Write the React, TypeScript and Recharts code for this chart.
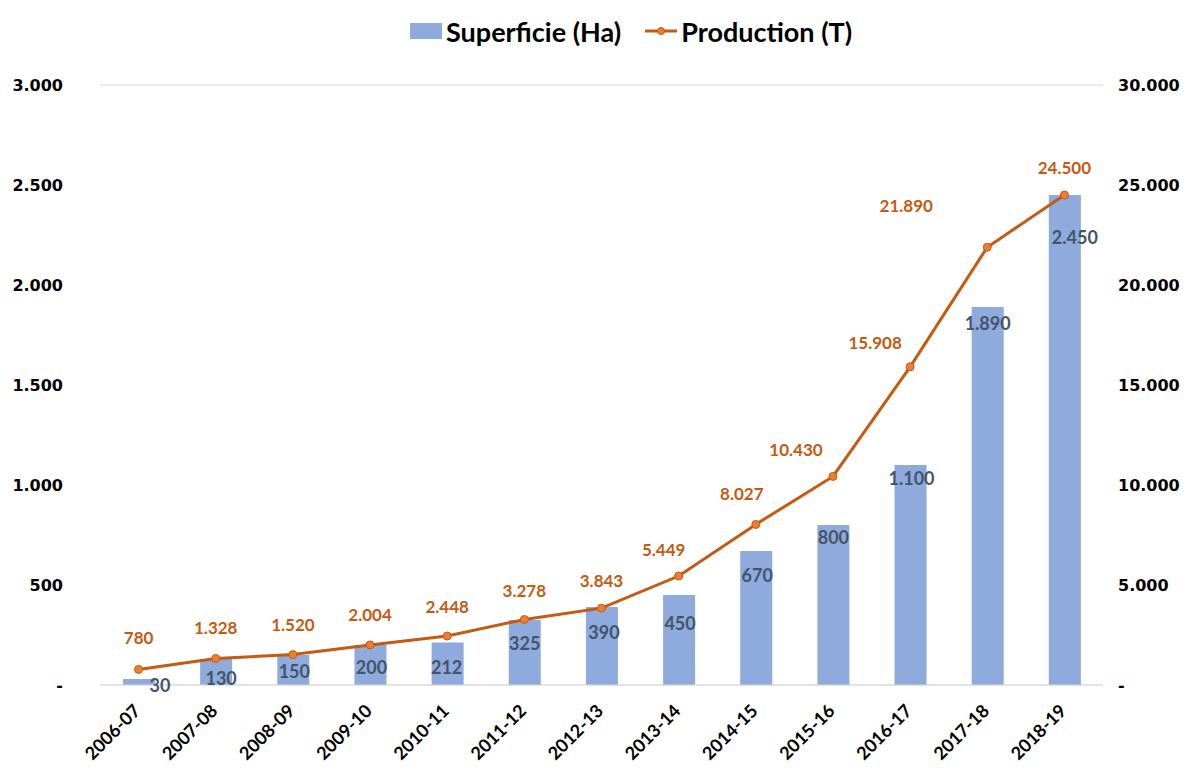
import React from "react";
import {
  ComposedChart, Bar, Line, XAxis, YAxis, CartesianGrid, LabelList,
} from "recharts";

const categories = [
  "2006-07", "2007-08", "2008-09", "2009-10", "2010-11", "2011-12", "2012-13",
  "2013-14", "2014-15", "2015-16", "2016-17", "2017-18", "2018-19",
];
const superficie = [30, 130, 150, 200, 212, 325, 390, 450, 670, 800, 1100, 1890, 2450];
const production = [780, 1328, 1520, 2004, 2448, 3278, 3843, 5449, 8027, 10430, 15908, 21890, 24500];
const leftTicks = [0, 500, 1000, 1500, 2000, 2500, 3000];
const rightTicks = [0, 5000, 10000, 15000, 20000, 25000, 30000];

// label nudges (relative to the mark), as placed by hand in the original
const barLabelShift = [[21, 6], [5, 19], [1, 16], [1, 22], [-1, 24], [0, 23], [2, 25], [1, 28], [1, 24], [0, 12], [1, 13], [0, 16], [10, 42]];
const lineLabelShift = [[0, -32], [0, -31], [0, -30], [0, -30], [0, -30], [0, -29], [0, -28], [-15, -27], [-14, -31], [-37, -27], [-35, -24], [-81, -42], [0, -28]];

const BAR = "#8FAADC";
const LINE = "#C55A11";
const AXIS_FONT = "'DejaVu Sans', sans-serif";
const LABEL_FONT = "Lato, sans-serif";

const data = categories.map((c, i) => ({ cat: c, sup: superficie[i], prod: production[i] }));

const fmt = (n: number) => (n === 0 ? "-" : String(n).replace(/\B(?=(\d{3})+(?!\d))/g, "."));

const XTick = (props: any) => {
  const { x, y, payload } = props;
  const ax = x + 3;
  const ay = y + 27;
  return (
    <text x={ax} y={ay} transform={`rotate(-45, ${ax}, ${ay})`} textAnchor="end"
      fontFamily={LABEL_FONT} fontWeight="bold" fontSize={18} fill="#000">
      {payload.value}
    </text>
  );
};

const BarLabel = (props: any) => {
  const { x, y, width, value, index } = props;
  const [dx, dy] = barLabelShift[index] || [0, 20];
  return (
    <text x={x + width / 2 + dx} y={y + dy} dominantBaseline="central" textAnchor="middle"
      fontFamily={LABEL_FONT} fontWeight="bold" fontSize={18} fill="#44546A">
      {fmt(value)}
    </text>
  );
};

const LineLabel = (props: any) => {
  const { x, y, value, index } = props;
  const [dx, dy] = lineLabelShift[index] || [0, -28];
  return (
    <text x={x + dx} y={y + dy} dominantBaseline="central" textAnchor="middle"
      fontFamily={LABEL_FONT} fontWeight="bold" fontSize={17} fill={LINE}>
      {fmt(value)}
    </text>
  );
};

const LegendBox = () => (
  <div style={{
    position: "absolute", top: 8, left: 402, display: "flex", alignItems: "center",
    fontFamily: LABEL_FONT, fontWeight: "bold", fontSize: 27, color: "#000", height: 30,
  }}>
    <span style={{ display: "inline-block", width: 32, height: 16, background: BAR, marginRight: 4 }} />
    <span>Superficie (Ha)</span>
    <svg width={32} height={16} style={{ marginLeft: 24, marginRight: 4 }}>
      <line x1={0} y1={8} x2={32} y2={8} stroke={LINE} strokeWidth={3} />
      <circle cx={16} cy={8} r={3.5} fill="#ED7D31" stroke={LINE} strokeWidth={1} />
    </svg>
    <span>Production (T)</span>
  </div>
);

export default function App() {
  return (
    <div style={{ position: "relative", width: 1181, height: 760 }}>
      <ComposedChart width={1181} height={760} data={data}
        margin={{ top: 77, right: 6, bottom: 13, left: 12 }}>
        <CartesianGrid vertical={false} stroke="#D9D9D9" />
        <XAxis dataKey="cat" tick={<XTick />} tickLine={false} tickSize={0} tickMargin={0}
          axisLine={{ stroke: "#D9D9D9" }} height={70} interval={0} />
        <YAxis yAxisId="left" orientation="left" domain={[0, 3000]} ticks={leftTicks}
          tickFormatter={fmt} axisLine={false} tickLine={false} tickSize={0} tickMargin={37} width={80}
          tick={{ fontFamily: AXIS_FONT, fontWeight: "bold", fontSize: 16, fill: "#000" }} />
        <YAxis yAxisId="right" orientation="right" domain={[0, 30000]} ticks={rightTicks}
          tickFormatter={fmt} axisLine={false} tickLine={false} tickSize={0} tickMargin={15} width={80}
          tick={{ fontFamily: AXIS_FONT, fontWeight: "bold", fontSize: 16, fill: "#000", textAnchor: "start" }} />
        <Bar yAxisId="left" dataKey="sup" fill={BAR} barSize={32} isAnimationActive={false}>
          <LabelList dataKey="sup" content={<BarLabel />} />
        </Bar>
        <Line yAxisId="right" type="linear" dataKey="prod" stroke={LINE} strokeWidth={3}
          dot={{ r: 4, fill: "#ED7D31", stroke: LINE, strokeWidth: 1 }} isAnimationActive={false}>
          <LabelList dataKey="prod" content={<LineLabel />} />
        </Line>
      </ComposedChart>
      <LegendBox />
    </div>
  );
}
